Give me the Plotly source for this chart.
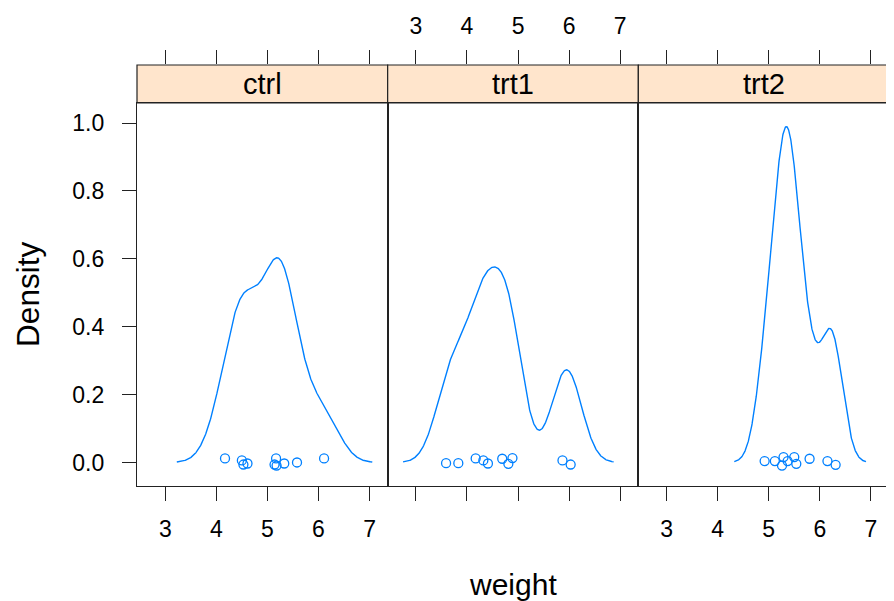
import numpy as np
import plotly.graph_objects as go

# ---- data (PlantGrowth weights) ----
groups = ["ctrl", "trt1", "trt2"]
ctrl_weight = [4.17, 5.58, 5.18, 6.11, 4.50, 4.61, 5.17, 4.53, 5.33, 5.14]
trt1_weight = [4.81, 4.17, 4.41, 3.59, 5.87, 3.83, 6.03, 4.89, 4.32, 4.69]
trt2_weight = [6.31, 5.12, 5.54, 5.50, 5.37, 5.29, 4.92, 6.15, 5.80, 5.26]
# vertical jitter of the rug points
ctrl_jitter = [0.012, 0.000, -0.009, 0.012, 0.006, -0.003, 0.012, -0.006, -0.003, -0.006]
trt1_jitter = [-0.004, 0.012, -0.003, -0.002, 0.006, -0.002, -0.006, 0.013, 0.006, 0.011]
trt2_jitter = [-0.007, 0.004, -0.004, 0.016, 0.004, 0.016, 0.004, 0.004, 0.011, -0.009]
x_ticks = [3, 4, 5, 6, 7]
y_ticks = [0.0, 0.2, 0.4, 0.6, 0.8, 1.0]

weights = [ctrl_weight, trt1_weight, trt2_weight]
jitters = [ctrl_jitter, trt1_jitter, trt2_jitter]


def bw_nrd0(x):
    x = np.asarray(x)
    sd = np.std(x, ddof=1)
    iqr = np.subtract(*np.percentile(x, [75, 25])) / 1.34
    return 0.9 * min(sd, iqr) * len(x) ** (-0.2)


def kde(x, n=512):
    x = np.asarray(x)
    bw = bw_nrd0(x)
    grid = np.linspace(x.min() - 3 * bw, x.max() + 3 * bw, n)
    dens = np.exp(-0.5 * ((grid[:, None] - x[None, :]) / bw) ** 2).sum(1) / (len(x) * bw * np.sqrt(2 * np.pi))
    return grid, dens


curves = [kde(w) for w in weights]
lo = min(c[0][0] for c in curves)
hi = max(c[0][-1] for c in curves)
pad = 0.07 * (hi - lo)
xr = [lo - pad, hi + pad]
ymax = max(c[1].max() for c in curves)
ymin = 0.0
ypad = 0.07 * (ymax - ymin)
yr = [ymin - ypad, ymax + ypad]

# the page body has an 8px margin, so the figure is drawn 8px in and 8px down
OFF = 8
W, H = 894 - OFF, 601 - OFF
L, R, T, B = 136.7 - OFF, 889.3 - OFF, 65.0 - OFF, 486.0 - OFF
strip_bottom = 103.0 - OFF
plot_h = B - T
panel_top = (B - strip_bottom) / plot_h

blue = "#0080ff"
font_family = "Liberation Sans, Arial, sans-serif"
tick_font = dict(family=font_family, size=23, color="black")

fig = go.Figure()
for i, (w, j, (gx, gy)) in enumerate(zip(weights, jitters, curves)):
    xa = "x" if i == 0 else f"x{i+1}"
    ya = "y" if i == 0 else f"y{i+1}"
    fig.add_trace(go.Scatter(x=gx, y=gy, mode="lines", line=dict(color=blue, width=1.4),
                             xaxis=xa, yaxis=ya, showlegend=False, hoverinfo="skip"))
    fig.add_trace(go.Scatter(x=w, y=j, mode="markers",
                             marker=dict(symbol="circle-open", size=9, color=blue, line=dict(width=1.3)),
                             xaxis=xa, yaxis=ya, showlegend=False, hoverinfo="skip"))
    # invisible trace so that the top tick axis exists
    fig.add_trace(go.Scatter(x=xr, y=[0.5, 0.5], mode="markers", marker=dict(opacity=0),
                             xaxis=f"x{i+4}", yaxis="y4", showlegend=False, hoverinfo="skip"))

doms = [[0, 1/3], [1/3, 2/3], [2/3, 1]]
layout = dict(
    width=W, height=H, autosize=False,
    margin=dict(l=L, r=W - R, t=T, b=H - B, pad=0, autoexpand=False),
    paper_bgcolor="white", plot_bgcolor="white",
    showlegend=False,
)
for i in range(3):
    k = "" if i == 0 else str(i + 1)
    layout[f"xaxis{k}"] = dict(
        domain=doms[i], range=xr, anchor=f"y{k}", side="bottom", automargin=False,
        tickvals=x_ticks, ticks="outside", ticklen=14, tickwidth=1.2, tickcolor="#222",
        showticklabels=(i != 1), tickfont=tick_font, ticklabelstandoff=8,
        showline=True, linecolor="#222", linewidth=1.2, mirror=True,
        showgrid=False, zeroline=False,
    )
    layout[f"yaxis{k}"] = dict(
        domain=[0, panel_top], range=yr, anchor=f"x{k}", automargin=False,
        side="right" if i == 2 else "left",
        tickvals=y_ticks if i != 1 else [], ticks="outside" if i != 1 else "",
        ticklen=14 if i == 0 else 5, tickwidth=1.2, tickcolor="#222",
        showticklabels=(i == 0), tickformat=".1f", tickfont=tick_font, ticklabelstandoff=13,
        showline=True, linecolor="#222", linewidth=1.2, mirror=True,
        showgrid=False, zeroline=False,
    )
    layout[f"xaxis{i+4}"] = dict(
        domain=doms[i], range=xr, anchor="y4", side="top", automargin=False,
        tickvals=x_ticks, ticks="outside", ticklen=14, tickwidth=1.2, tickcolor="#222",
        showticklabels=(i == 1), tickfont=tick_font, ticklabelstandoff=7,
        showline=False, showgrid=False, zeroline=False,
    )
layout["yaxis4"] = dict(domain=[panel_top, 1], range=[0, 1], anchor="x4", visible=False,
                        automargin=False, showgrid=False, zeroline=False)
fig.update_layout(**layout)

# strips
for i, g in enumerate(groups):
    xa = f"x{i+4}"
    fig.add_shape(type="rect", xref=f"{xa} domain", yref="y4 domain", x0=0, x1=1, y0=0, y1=1,
                  fillcolor="#ffe5cc", line=dict(color="#222", width=1.2), layer="below")
    fig.add_annotation(text=g, xref=f"{xa} domain", yref="y4 domain", x=0.5, y=0.5,
                       xanchor="center", yanchor="middle", showarrow=False,
                       font=dict(family=font_family, size=29, color="black"))

# axis titles
fig.add_annotation(text="weight", xref="paper", yref="paper", x=0.5, y=(B - (584 - OFF)) / plot_h,
                   xanchor="center", yanchor="middle", showarrow=False,
                   font=dict(family=font_family, size=30, color="black"))
fig.add_annotation(text="Density", xref="paper", yref="paper", x=((27 - OFF) - L) / (R - L),
                   y=(B - (294.5 - OFF)) / plot_h, xanchor="center", yanchor="middle", textangle=-90,
                   showarrow=False, font=dict(family=font_family, size=31.5, color="black"))

fig.write_html("out.html")
